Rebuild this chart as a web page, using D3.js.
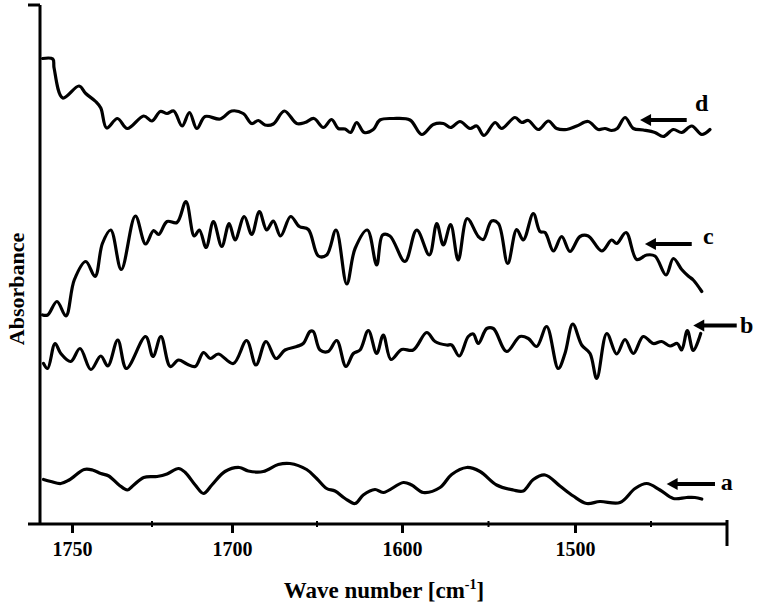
<!DOCTYPE html>
<html>
<head>
<meta charset="utf-8">
<script src="https://cdn.jsdelivr.net/npm/d3@7"></script>
<style>
  body { margin: 0; background: #fff; }
  svg text { font-family: "Liberation Serif", "Times New Roman", serif; font-weight: bold; fill: #000; }
</style>
</head>
<body>
<svg id="chart" width="760" height="610"></svg>
<script>
// spectra: [wave number, absorbance]
var spectrumA = [[1758.9,0.089],[1756.6,0.085],[1753.5,0.081],[1750.9,0.088],[1746.2,0.109],[1743.6,0.108],[1741.0,0.101],[1738.5,0.096],[1735.3,0.078],[1732.7,0.068],[1730.7,0.078],[1727.6,0.093],[1723.4,0.095],[1720.3,0.100],[1716.7,0.111],[1714.6,0.103],[1711.5,0.078],[1708.9,0.061],[1706.3,0.078],[1702.2,0.105],[1695.7,0.113],[1690.4,0.106],[1681.6,0.105],[1672.8,0.119],[1665.9,0.121],[1656.1,0.109],[1650.2,0.091],[1644.3,0.071],[1639.4,0.066],[1633.5,0.051],[1627.6,0.041],[1622.8,0.058],[1615.9,0.069],[1611.0,0.063],[1599.2,0.083],[1594.4,0.078],[1587.7,0.063],[1578.0,0.073],[1571.3,0.099],[1562.6,0.113],[1554.9,0.105],[1545.3,0.078],[1535.7,0.068],[1529.9,0.066],[1524.1,0.089],[1517.3,0.098],[1508.7,0.076],[1501.0,0.056],[1492.3,0.041],[1483.6,0.045],[1470.4,0.043],[1460.5,0.071],[1452.8,0.081],[1444.1,0.068],[1435.3,0.051],[1426.5,0.053],[1421.1,0.053],[1416.6,0.050]];

var spectrumB = [[1758.9,0.321],[1757.6,0.311],[1755.3,0.361],[1753.5,0.341],[1750.4,0.325],[1747.5,0.351],[1744.1,0.309],[1741.0,0.336],[1738.8,0.316],[1735.7,0.368],[1733.0,0.311],[1727.0,0.375],[1724.7,0.335],[1722.2,0.375],[1719.3,0.315],[1716.7,0.328],[1714.1,0.320],[1711.5,0.315],[1708.9,0.343],[1706.8,0.331],[1704.3,0.340],[1699.2,0.321],[1691.4,0.367],[1685.9,0.318],[1680.0,0.365],[1674.1,0.331],[1668.8,0.348],[1661.9,0.355],[1658.1,0.361],[1654.1,0.385],[1652.2,0.385],[1648.2,0.348],[1643.4,0.345],[1638.4,0.367],[1633.0,0.315],[1628.6,0.341],[1624.7,0.348],[1619.8,0.387],[1614.9,0.341],[1611.0,0.378],[1606.5,0.329],[1600.2,0.349],[1593.5,0.348],[1585.7,0.383],[1580.9,0.365],[1574.2,0.358],[1571.3,0.358],[1566.9,0.336],[1561.7,0.375],[1558.8,0.380],[1555.9,0.361],[1551.0,0.391],[1547.2,0.391],[1539.5,0.345],[1531.8,0.375],[1527.0,0.371],[1522.1,0.355],[1516.4,0.395],[1509.7,0.311],[1505.8,0.341],[1501.3,0.400],[1495.6,0.358],[1490.1,0.341],[1485.7,0.291],[1479.1,0.381],[1472.6,0.340],[1467.1,0.369],[1461.6,0.341],[1455.1,0.375],[1448.5,0.361],[1443.0,0.365],[1437.5,0.356],[1432.7,0.361],[1429.8,0.348],[1426.1,0.387],[1422.2,0.347],[1417.3,0.381]];

var spectrumC = [[1759.2,0.418],[1757.6,0.418],[1754.7,0.445],[1751.9,0.416],[1749.3,0.488],[1745.7,0.525],[1742.8,0.495],[1740.5,0.561],[1737.9,0.588],[1734.6,0.509],[1730.2,0.616],[1727.0,0.560],[1724.5,0.587],[1722.9,0.579],[1720.3,0.605],[1717.2,0.603],[1714.4,0.645],[1711.8,0.576],[1710.2,0.588],[1708.1,0.553],[1705.8,0.605],[1703.2,0.555],[1700.9,0.601],[1698.2,0.568],[1692.8,0.615],[1688.4,0.579],[1683.9,0.625],[1679.6,0.588],[1675.7,0.606],[1671.4,0.576],[1665.5,0.615],[1660.4,0.595],[1655.1,0.589],[1649.2,0.536],[1644.3,0.538],[1638.8,0.588],[1632.5,0.480],[1627.6,0.551],[1620.4,0.588],[1614.9,0.518],[1611.4,0.578],[1607.1,0.576],[1598.3,0.525],[1591.5,0.588],[1584.2,0.538],[1579.9,0.601],[1576.1,0.558],[1571.9,0.599],[1567.5,0.528],[1562.3,0.611],[1555.9,0.575],[1553.0,0.569],[1548.2,0.606],[1544.3,0.601],[1538.9,0.521],[1533.7,0.589],[1529.9,0.568],[1524.1,0.621],[1520.2,0.585],[1517.3,0.583],[1512.5,0.546],[1507.7,0.575],[1502.9,0.545],[1496.7,0.575],[1491.3,0.576],[1482.4,0.546],[1475.9,0.568],[1472.6,0.561],[1466.4,0.583],[1459.4,0.529],[1452.8,0.538],[1447.4,0.536],[1440.1,0.498],[1435.3,0.531],[1429.8,0.509],[1425.5,0.496],[1422.2,0.488],[1416.6,0.465]];

var spectrumD = [[1759.2,0.931],[1756.0,0.930],[1755.6,0.912],[1752.9,0.852],[1747.8,0.876],[1745.7,0.861],[1742.6,0.845],[1741.0,0.832],[1739.2,0.792],[1735.8,0.811],[1732.7,0.791],[1727.6,0.816],[1725.0,0.806],[1722.4,0.825],[1720.3,0.821],[1718.2,0.826],[1715.6,0.796],[1713.3,0.823],[1711.0,0.791],[1708.4,0.815],[1703.7,0.810],[1700.1,0.826],[1693.4,0.821],[1688.4,0.801],[1684.5,0.807],[1680.6,0.798],[1675.7,0.800],[1669.2,0.826],[1661.9,0.801],[1657.1,0.803],[1651.8,0.811],[1646.3,0.793],[1641.4,0.809],[1637.5,0.791],[1633.5,0.790],[1630.2,0.783],[1626.7,0.803],[1622.2,0.783],[1616.9,0.789],[1613.0,0.808],[1605.1,0.811],[1595.4,0.808],[1588.6,0.779],[1581.9,0.799],[1576.1,0.801],[1571.9,0.793],[1566.5,0.805],[1560.7,0.791],[1556.8,0.796],[1552.6,0.777],[1546.2,0.803],[1542.4,0.791],[1534.7,0.813],[1530.8,0.803],[1527.0,0.807],[1521.2,0.789],[1515.4,0.806],[1510.6,0.791],[1504.8,0.789],[1498.9,0.796],[1491.3,0.805],[1484.7,0.789],[1480.3,0.791],[1475.9,0.787],[1472.2,0.791],[1467.1,0.813],[1461.6,0.791],[1455.1,0.788],[1447.4,0.783],[1441.9,0.775],[1435.3,0.789],[1429.8,0.783],[1423.2,0.796],[1416.6,0.779],[1411.2,0.789]];

var spectra = [spectrumA, spectrumB, spectrumC, spectrumD];

// arrow annotations: label, head / tail wave number, absorbance, label position
var labelNames = ["a", "b", "c", "d"];
var arrowHeads = [1439.7, 1422.2, 1454.0, 1457.2];
var arrowTails = [1407.9, 1393.6, 1423.2, 1426.5];
var arrowLevels = [0.080, 0.397, 0.560, 0.808];
var labelWaves = [1400.2, 1387.0, 1412.3, 1416.6];
var labelLevels = [0.084, 0.398, 0.576, 0.842];

var xTickValues = [1750, 1700, 1600, 1500];
var xMinorTicks = [1725, 1650, 1550, 1450];

var svg = d3.select("#chart");

// the printed axis is not evenly spaced, so the scale is piecewise
var x = d3.scaleLinear()
    .domain([1760, 1700, 1600, 1500, 1400])
    .range([40, 232, 402, 575, 727]);

var y = d3.scaleLinear()
    .domain([0, 1.038])
    .range([524, 5]);

var line = d3.line()
    .x(function(d) { return x(d[0]); })
    .y(function(d) { return y(d[1]); })
    .curve(d3.curveCatmullRom.alpha(0.5));

svg.selectAll("path.spectrum")
    .data(spectra)
    .enter()
    .append("path")
    .attr("class", "spectrum")
    .attr("d", line)
    .attr("fill", "none")
    .attr("stroke", "#000")
    .attr("stroke-width", 3.2)
    .attr("stroke-linejoin", "round")
    .attr("stroke-linecap", "round");

// x axis
var xAxis = svg.append("g")
    .attr("transform", "translate(0," + y(0) + ")")
    .call(d3.axisBottom(x).tickValues(xTickValues).tickSize(9).tickPadding(9).tickFormat(d3.format("d")));

xAxis.select(".domain").remove();
xAxis.selectAll(".tick line").attr("stroke", "#000").attr("stroke-width", 3);
xAxis.selectAll(".tick text")
    .style("font-size", "20px")
    .attr("fill", "#000");

svg.append("line")
    .attr("x1", 28).attr("x2", x(1400))
    .attr("y1", y(0)).attr("y2", y(0))
    .attr("stroke", "#000").attr("stroke-width", 3);

svg.selectAll("line.minor")
    .data(xMinorTicks)
    .enter()
    .append("line")
    .attr("class", "minor")
    .attr("x1", function(d) { return x(d); })
    .attr("x2", function(d) { return x(d); })
    .attr("y1", y(0) - 3)
    .attr("y2", y(0) + 3)
    .attr("stroke", "#000")
    .attr("stroke-width", 2);

// end tick at the right of the axis
svg.append("line")
    .attr("x1", x(1400)).attr("x2", x(1400))
    .attr("y1", y(0) - 4).attr("y2", y(0) + 22)
    .attr("stroke", "#000").attr("stroke-width", 3);

// y axis
svg.append("line")
    .attr("x1", x(1760)).attr("x2", x(1760))
    .attr("y1", y(1.038)).attr("y2", y(0) + 1)
    .attr("stroke", "#000").attr("stroke-width", 3);

svg.append("line")
    .attr("x1", 28).attr("x2", x(1760))
    .attr("y1", y(1.038)).attr("y2", y(1.038))
    .attr("stroke", "#000").attr("stroke-width", 3);

// axis titles
svg.append("text")
    .attr("transform", "translate(24," + y(0.47) + ") rotate(-90)")
    .attr("text-anchor", "middle")
    .style("font-size", "22px")
    .text("Absorbance");

var xTitle = svg.append("text")
    .attr("x", 384)
    .attr("y", 598)
    .attr("text-anchor", "middle")
    .style("font-size", "23px");
xTitle.append("tspan").text("Wave number [cm");
xTitle.append("tspan").attr("dy", -9).style("font-size", "14px").text("-1");
xTitle.append("tspan").attr("dy", 9).text("]");

// arrows with labels
var arrows = svg.selectAll("g.arrow")
    .data(labelNames)
    .enter()
    .append("g")
    .attr("class", "arrow");

arrows.append("line")
    .attr("x1", function(d, i) { return x(arrowHeads[i]) + 8; })
    .attr("x2", function(d, i) { return x(arrowTails[i]); })
    .attr("y1", function(d, i) { return y(arrowLevels[i]); })
    .attr("y2", function(d, i) { return y(arrowLevels[i]); })
    .attr("stroke", "#000")
    .attr("stroke-width", 4);

arrows.append("path")
    .attr("d", function(d, i) {
        var hx = x(arrowHeads[i]), hy = y(arrowLevels[i]);
        return "M" + hx + "," + hy + "L" + (hx + 11) + "," + (hy - 6) + "L" + (hx + 11) + "," + (hy + 6) + "Z";
    })
    .attr("fill", "#000");

arrows.append("text")
    .attr("x", function(d, i) { return x(labelWaves[i]); })
    .attr("y", function(d, i) { return y(labelLevels[i]); })
    .attr("text-anchor", "middle")
    .attr("dominant-baseline", "central")
    .style("font-size", "24px")
    .text(function(d) { return d; });
</script>
</body>
</html>
